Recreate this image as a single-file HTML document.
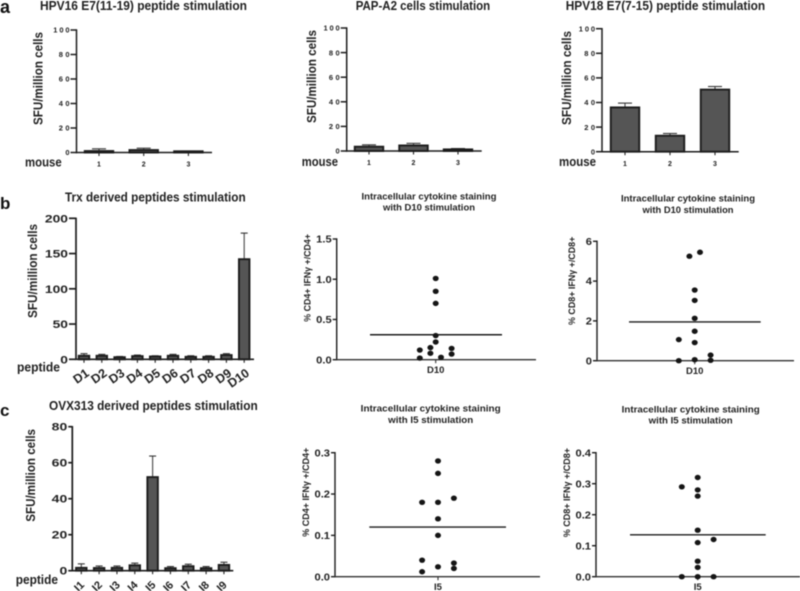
<!DOCTYPE html>
<html lang="en">
<head>
<meta charset="utf-8">
<title>Peptide stimulation figure</title>
<style>
html,body{margin:0;padding:0;background:#fff;}
svg{display:block;filter:blur(0.4px);}
text{font-family:"Liberation Sans",sans-serif;fill:#222;}
.hd{font-weight:bold;font-size:12.8px;fill:#222;}
.st{font-weight:bold;font-size:9.4px;fill:#222;text-anchor:middle;}
.yt{font-weight:bold;font-size:13px;fill:#222;}
.ys{font-weight:bold;font-size:9.4px;fill:#222;}
.pl{font-weight:bold;fill:#111;}
.lab{font-weight:bold;font-size:13px;fill:#222;}
</style>
</head>
<body>
<svg id="fig" xmlns="http://www.w3.org/2000/svg" width="800" height="591" viewBox="0 0 800 591">
  <rect width="800" height="591" fill="#fff"/>
  <text class="pl" x="0" y="13" font-size="18">a</text>
  <text class="pl" x="0" y="209" font-size="17">b</text>
  <text class="pl" x="0" y="416" font-size="17">c</text>

  <text class="hd" x="40" y="10" textLength="207" lengthAdjust="spacingAndGlyphs">HPV16 E7(11-19) peptide stimulation</text>
  <text class="hd" x="355.7" y="10" textLength="134.5" lengthAdjust="spacingAndGlyphs">PAP-A2 cells stimulation</text>
  <text class="hd" x="565.7" y="10" textLength="199.5" lengthAdjust="spacingAndGlyphs">HPV18 E7(7-15) peptide stimulation</text>
  <text class="hd" x="65" y="201.7" textLength="180.7" lengthAdjust="spacingAndGlyphs">Trx derived peptides stimulation</text>
  <text class="hd" x="49" y="410" textLength="208.7" lengthAdjust="spacingAndGlyphs">OVX313 derived peptides stimulation</text>

  <text class="st" x="429" y="199.3" textLength="135" lengthAdjust="spacingAndGlyphs">Intracellular cytokine staining</text>
  <text class="st" x="429" y="210.3" textLength="92" lengthAdjust="spacingAndGlyphs">with D10 stimulation</text>
  <text class="st" x="688" y="201.7" textLength="134" lengthAdjust="spacingAndGlyphs">Intracellular cytokine staining</text>
  <text class="st" x="688" y="213" textLength="91" lengthAdjust="spacingAndGlyphs">with D10 stimulation</text>
  <text class="st" x="430.7" y="411.7" textLength="140" lengthAdjust="spacingAndGlyphs">Intracellular cytokine staining</text>
  <text class="st" x="430.7" y="423" textLength="85" lengthAdjust="spacingAndGlyphs">with I5 stimulation</text>
  <text class="st" x="690.7" y="412.7" textLength="138" lengthAdjust="spacingAndGlyphs">Intracellular cytokine staining</text>
  <text class="st" x="690.7" y="423.7" textLength="84" lengthAdjust="spacingAndGlyphs">with I5 stimulation</text>

  <text class="yt" transform="translate(42.5,125) rotate(-90)" textLength="93" lengthAdjust="spacingAndGlyphs">SFU/million cells</text>
  <text class="yt" transform="translate(316,123) rotate(-90)" textLength="93" lengthAdjust="spacingAndGlyphs">SFU/million cells</text>
  <text class="yt" transform="translate(571,125) rotate(-90)" textLength="94" lengthAdjust="spacingAndGlyphs">SFU/million cells</text>
  <text class="yt" transform="translate(37,318) rotate(-90)" textLength="94" lengthAdjust="spacingAndGlyphs">SFU/million cells</text>
  <text class="yt" transform="translate(35,521.7) rotate(-90)" textLength="92.7" lengthAdjust="spacingAndGlyphs">SFU/million cells</text>

  <text class="ys" transform="translate(310.5,321.7) rotate(-90)" textLength="87.7" lengthAdjust="spacingAndGlyphs">% CD4+ IFNγ +/CD4+</text>
  <text class="ys" transform="translate(575,325) rotate(-90)" textLength="88.3" lengthAdjust="spacingAndGlyphs">% CD8+ IFNγ +/CD8+</text>
  <text class="ys" transform="translate(309,536.7) rotate(-90)" textLength="89" lengthAdjust="spacingAndGlyphs">% CD4+ IFNγ +/CD4+</text>
  <text class="ys" transform="translate(570,537.3) rotate(-90)" textLength="89.3" lengthAdjust="spacingAndGlyphs">% CD8+ IFNγ +/CD8+</text>

  <text class="lab" x="25" y="166.7" textLength="36.7" lengthAdjust="spacingAndGlyphs">mouse</text>
  <text class="lab" x="301.7" y="166" textLength="36.3" lengthAdjust="spacingAndGlyphs">mouse</text>
  <text class="lab" x="559" y="166" textLength="37" lengthAdjust="spacingAndGlyphs">mouse</text>
  <text class="lab" x="17" y="371.5" textLength="43" lengthAdjust="spacingAndGlyphs">peptide</text>
  <text class="lab" x="15.7" y="584" textLength="42.3" lengthAdjust="spacingAndGlyphs">peptide</text>
</svg>
<script>
// ---- Bar chart data ----
var mouseCategories = ['1', '2', '3'];
var hpv16Means = [1.2, 2, 1];
var hpv16Tops = [3, 3.5, 1.2];
var papA2Means = [3.5, 4.5, 1.3];
var papA2Tops = [5, 6.2, 2];
var hpv18Means = [36, 13, 50.5];
var hpv18Tops = [39.5, 14.8, 53];
var percentTicks = [0, 20, 40, 60, 80, 100];

var trxCategories = ['D1', 'D2', 'D3', 'D4', 'D5', 'D6', 'D7', 'D8', 'D9', 'D10'];
var trxMeans = [5, 5, 3, 4.5, 4, 5, 3.5, 3.5, 6, 142];
var trxTops = [8, 7, 4, 6, 5, 7, 5, 5, 8, 179];
var trxTicks = [0, 50, 100, 150, 200];

var ovxCategories = ['I1', 'I2', 'I3', 'I4', 'I5', 'I6', 'I7', 'I8', 'I9'];
var ovxMeans = [1.6, 1.5, 1.6, 3, 52, 1.4, 2.5, 1.4, 3.2];
var ovxTops = [3.8, 2.6, 2.6, 4.2, 63.7, 2.3, 3.6, 2.3, 4.7];
var ovxTicks = [0, 20, 40, 60, 80];

// ---- Scatter data (columns: swarm slot index around the category centre) ----
var cd4D10Values = [1.01, 0.85, 0.70, 0.30, 0.22, 0.15, 0.12, 0.14, 0.08, 0.07, 0.03, 0.02];
var cd4D10Slots = [0, 0, 0, 0, 0, -1, -3, 3, -1, 3, 1, -3];
var cd4D10Mean = [0.31];
var cd4D10Ticks = ['0.0', '0.5', '1.0', '1.5'];

var cd8D10Values = [5.45, 5.25, 3.55, 3.03, 2.13, 1.48, 1.06, 0.91, 0.28, 0, 0.05, 0.02];
var cd8D10Slots = [1, -1, 0, 0, 0, 0, -3, 0, 3, -3, 0, 3];
var cd8D10Mean = [1.95];
var cd8D10Ticks = ['0', '2', '4', '6'];

var cd4I5Values = [0.28, 0.25, 0.18, 0.18, 0.19, 0.14, 0.10, 0.04, 0.033, 0.024, 0.02, 0.012];
var cd4I5Slots = [0, 0, -3, 0, 3, 0, 0, -3, 3, 0, 3, -3];
var cd4I5Mean = [0.12];
var cd4I5Ticks = ['0.0', '0.1', '0.2', '0.3'];

var cd8I5Values = [0.32, 0.29, 0.28, 0.26, 0.15, 0.11, 0.12, 0.05, 0.03, 0, 0, 0];
var cd8I5Slots = [0, -3, 0, 0, 0, 0, 3, 0, 0, -3, 0, 3];
var cd8I5Mean = [0.135];
var cd8I5Ticks = ['0.0', '0.1', '0.2', '0.3', '0.4'];

var svg = document.getElementById('fig');
var NS = 'http://www.w3.org/2000/svg';

function make(tag, attrs) {
  var el = document.createElementNS(NS, tag);
  for (var k in attrs) { el.setAttribute(k, attrs[k]); }
  svg.appendChild(el);
  return el;
}
function linearScale(d0, d1, r0, r1) {
  return function (v) { return r0 + (v - d0) / (d1 - d0) * (r1 - r0); };
}
function stroke(x1, y1, x2, y2, color, width) {
  return make('line', { x1: x1, y1: y1, x2: x2, y2: y2, stroke: color, 'stroke-width': width });
}

function yAxis(o, ticks, maxVal, y) {
  var axis = stroke(o.x, y(maxVal) - 0.7, o.x, y(0) + 0.7, '#1c1c1c', o.axisW);
  
  
  ticks.forEach(function (t) {
    var v = parseFloat(t);
    var tick = stroke(o.x - o.tickLen, y(v), o.x, y(v), '#1c1c1c', o.axisW);
    
    
    var label = make('text', {
      x: o.x - o.tickLen - 1, y: y(v) + o.tickFont * 0.36, 'text-anchor': 'end',
      'font-size': o.tickFont, 'font-weight': 'bold', textLength: String(t).length * o.tickCharW - (String(t).indexOf('.') >= 0 ? o.tickCharW * 0.5 : 0),
      lengthAdjust: o.tickAdjust
    });
    label.textContent = t;
    
    
  });
}

function barChart(o, cats, means, tops, ticks, maxVal) {
  var y = linearScale(0, maxVal, o.y0, o.yTop);
  var x = function (i) { return o.c0 + i * o.step; };
  yAxis(o, ticks, maxVal, y);
  cats.forEach(function (c, i) {
    var cx = x(i);
    var stem = stroke(cx, y(means[i]), cx, y(tops[i]), '#444', 1.1);
    
    
    var cap = stroke(cx - o.capW / 2, y(tops[i]), cx + o.capW / 2, y(tops[i]), '#333', 1.1);
    
    
    var bar = make('rect', {
      x: cx - o.barW / 2, y: y(means[i]), width: o.barW, height: y(0) - y(means[i]),
      fill: '#555', stroke: '#1c1c1c', 'stroke-width': 1.9
    });
    
    
    var tick = stroke(cx, o.y0, cx, o.y0 + 3.5, '#222', 1.1);
    
    
    var label;
    if (o.rotate) {
      var lx = cx + o.labelDx, ly = o.y0 + o.labelDy;
      label = make('text', {
        x: lx, y: ly, 'text-anchor': 'end', 'font-size': o.catFont, 'font-weight': 'bold',
        fill: '#333', transform: 'rotate(' + o.rotate + ' ' + lx + ' ' + ly + ')'
      });
    } else {
      label = make('text', {
        x: cx, y: o.y0 + 14.2, 'text-anchor': 'middle', 'font-size': o.catFont, 'font-weight': 'bold'
      });
    }
    label.textContent = c;
    
    
  });
  var xAxis = stroke(o.x - 0.7, o.y0, o.xEnd, o.y0, '#1c1c1c', o.axisW);
  
  
}

function scatterChart(o, values, slots, mean, ticks, maxVal, catName) {
  var y = linearScale(0, maxVal, o.y0, o.yTop);
  var slotWidth = 5.3;
  yAxis(o, ticks, maxVal, y);
  var xAxis = stroke(o.x - 0.7, o.y0, o.xEnd, o.y0, '#333', 1.4);
  
  
  var tick = stroke(o.cx, o.y0, o.cx, o.y0 + 3.5, '#333', 1.1);
  
  
  var label = make('text', { x: o.cx, y: o.labelY, 'text-anchor': 'middle', 'font-size': 9.5, 'font-weight': 'bold' });
  label.textContent = catName;
  
  
  mean.forEach(function (m) {
    var line = stroke(o.cx - o.meanL, y(m), o.cx + o.meanR, y(m), '#1c1c1c', 1.4);
    
    
  });
  values.forEach(function (v, i) {
    var dot = make('ellipse', { cx: o.cx + slots[i] * slotWidth, cy: y(v), rx: 3, ry: 2.7, fill: '#151515' });
    
    
  });
}

var smallTick = { tickLen: 6, tickFont: 7.5, tickCharW: 5.4, tickAdjust: 'spacing', axisW: 1.5, capW: 14, barW: 28.5, catFont: 7 };
barChart(Object.assign({ x: 76.5, y0: 152.5, yTop: 30, xEnd: 212, c0: 99, step: 44.7 }, smallTick), mouseCategories, hpv16Means, hpv16Tops, percentTicks, 100);
barChart(Object.assign({ x: 346.7, y0: 151, yTop: 28, xEnd: 481.7, c0: 369, step: 44.5 }, smallTick), mouseCategories, papA2Means, papA2Tops, percentTicks, 100);
barChart(Object.assign({ x: 602, y0: 151.7, yTop: 28.7, xEnd: 738.7, c0: 625, step: 45 }, smallTick), mouseCategories, hpv18Means, hpv18Tops, percentTicks, 100);

barChart({ x: 76, y0: 359.3, yTop: 218.3, xEnd: 254, c0: 84, step: 17.8, tickLen: 7, tickFont: 11, tickCharW: 7.7, tickAdjust: 'spacingAndGlyphs', axisW: 1.7, capW: 7, barW: 10.5, catFont: 12.5, rotate: -35, labelDx: 6, labelDy: 15.7 }, trxCategories, trxMeans, trxTops, trxTicks, 200);
barChart({ x: 72.3, y0: 570.7, yTop: 426.7, xEnd: 233.3, c0: 81.3, step: 17.83, tickLen: 4, tickFont: 11, tickCharW: 7.8, tickAdjust: 'spacingAndGlyphs', axisW: 1.7, capW: 7, barW: 10.5, catFont: 11, rotate: -45, labelDx: 3.7, labelDy: 14.9 }, ovxCategories, ovxMeans, ovxTops, ovxTicks, 80);

var scatterStyle = { tickLen: 4, tickFont: 10, tickCharW: 6.2, tickAdjust: 'spacingAndGlyphs', axisW: 1.4 };
scatterChart(Object.assign({ x: 336.7, y0: 359.7, yTop: 239, xEnd: 536, cx: 435.7, meanL: 65.7, meanR: 66.3, labelY: 373 }, scatterStyle), cd4D10Values, cd4D10Slots, cd4D10Mean, cd4D10Ticks, 1.5, 'D10');
scatterChart(Object.assign({ x: 597, y0: 360.7, yTop: 241.3, xEnd: 794, cx: 694.7, meanL: 65.7, meanR: 66, labelY: 374 }, scatterStyle), cd8D10Values, cd8D10Slots, cd8D10Mean, cd8D10Ticks, 6, 'D10');
scatterChart(Object.assign({ x: 335, y0: 576.7, yTop: 452.7, xEnd: 540, cx: 438, meanL: 68.7, meanR: 68, labelY: 590 }, scatterStyle), cd4I5Values, cd4I5Slots, cd4I5Mean, cd4I5Ticks, 0.3, 'I5');
scatterChart(Object.assign({ x: 596, y0: 576.7, yTop: 452.7, xEnd: 800, cx: 697.7, meanL: 67.7, meanR: 68, labelY: 590 }, scatterStyle), cd8I5Values, cd8I5Slots, cd8I5Mean, cd8I5Ticks, 0.4, 'I5');
</script>
</body>
</html>
